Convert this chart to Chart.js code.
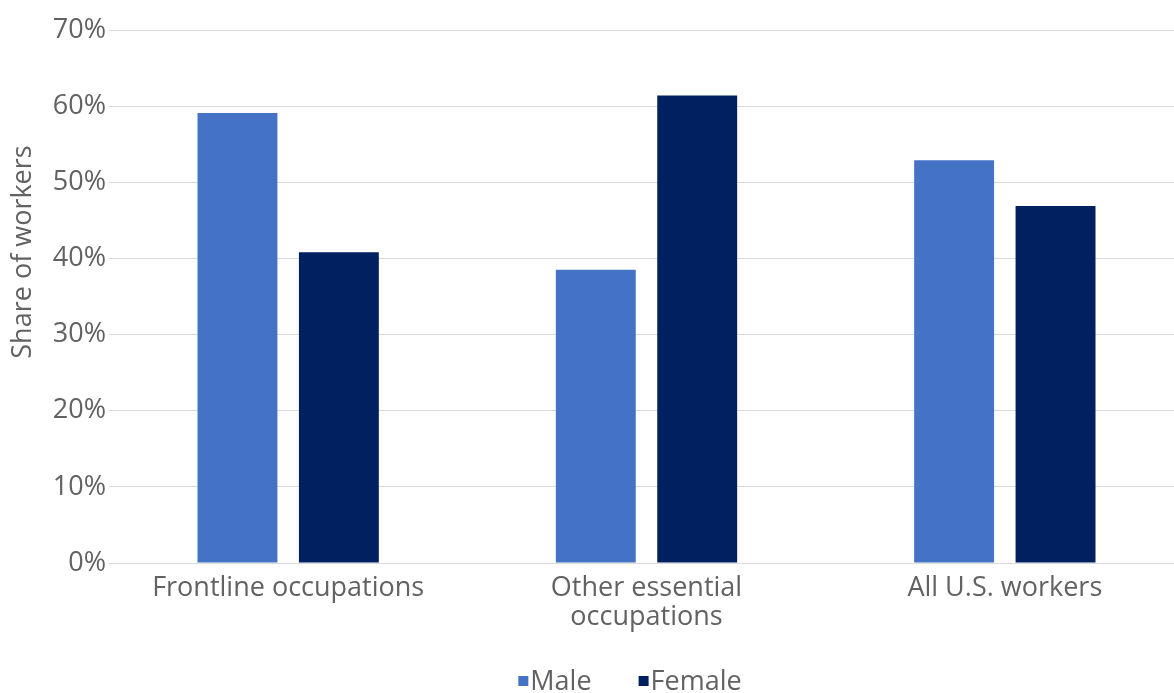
<!DOCTYPE html>
<html>
<head>
<meta charset="utf-8">
<title>Share of workers by sex</title>
<script src="https://cdn.jsdelivr.net/npm/chart.js@4.4.0/dist/chart.umd.min.js"></script>
<style>
  html, body { margin: 0; padding: 0; background: #ffffff; overflow: hidden; }
  #wrap { width: 1260px; height: 693px; }
</style>
</head>
<body>
<div id="wrap"><canvas id="c" width="1260" height="693"></canvas></div>
<script>
// Data
const categories = ['Frontline occupations', ['Other essential', 'occupations'], 'All U.S. workers'];
const seriesNames = ['Male', 'Female'];
const maleShare = [59.1, 38.5, 52.9];
const femaleShare = [40.8, 61.4, 46.9];
const yTickValues = [0, 10, 20, 30, 40, 50, 60, 70];
const yTitle = 'Share of workers';

// Styling
const FONT = '"Open Sans", "DejaVu Sans", sans-serif';
const FS = 27;
const TEXT = '#626262';
const GRID = '#d9d9d9';
const COLORS = ['#4472c4', '#002060'];

// Draws the rotated axis title and the compact legend under the chart
const extras = {
  id: 'extras',
  afterDraw(chart) {
    const ctx = chart.ctx;
    ctx.save();
    ctx.font = `${FS}px ${FONT}`;
    ctx.fillStyle = TEXT;
    ctx.translate(23, 252);
    ctx.rotate(-Math.PI / 2);
    ctx.textAlign = 'center';
    ctx.textBaseline = 'middle';
    ctx.fillText(yTitle, 0, 0);
    ctx.restore();

    ctx.save();
    ctx.font = `${FS}px ${FONT}`;
    ctx.textBaseline = 'middle';
    ctx.textAlign = 'left';
    const box = 10, gap = 2, spacing = 47, cy = 682;
    const items = chart.data.datasets.map(ds => ({
      label: ds.label, color: ds.backgroundColor, w: ctx.measureText(ds.label).width
    }));
    let total = 0;
    items.forEach((it, i) => { total += box + gap + it.w + (i < items.length - 1 ? spacing : 0); });
    let x = chart.width / 2 - total / 2;
    items.forEach(it => {
      ctx.fillStyle = it.color;
      ctx.fillRect(x, cy - 6, box, box);
      ctx.fillStyle = TEXT;
      ctx.fillText(it.label, x + box + gap, cy);
      x += box + gap + it.w + spacing;
    });
    ctx.restore();
  }
};

new Chart(document.getElementById('c'), {
  type: 'bar',
  data: {
    labels: categories,
    datasets: [
      { label: seriesNames[0], data: maleShare, backgroundColor: COLORS[0] },
      { label: seriesNames[1], data: femaleShare, backgroundColor: COLORS[1] }
    ]
  },
  options: {
    responsive: false,
    animation: false,
    devicePixelRatio: 1,
    categoryPercentage: 0.566,
    barPercentage: 0.788,
    layout: { padding: { top: 30, right: 76, bottom: 0, left: 0 } },
    plugins: { legend: { display: false }, tooltip: { enabled: false } },
    scales: {
      x: {
        grid: { display: false, drawTicks: false },
        border: { display: false },
        ticks: { color: TEXT, font: { family: FONT, size: FS, lineHeight: 1.06 }, padding: 11, maxRotation: 0, autoSkip: false },
        afterFit(scale) { scale.height = 130; }
      },
      y: {
        min: 0,
        max: 70,
        grid: { color: GRID, lineWidth: 1, drawTicks: false },
        border: { display: false },
        ticks: { color: TEXT, font: { family: FONT, size: FS }, padding: 3, callback: v => v + '%' },
        afterBuildTicks(scale) { scale.ticks = yTickValues.map(v => ({ value: v })); },
        afterFit(scale) { scale.width = 109; }
      }
    }
  },
  plugins: [extras]
});
</script>
</body>
</html>
